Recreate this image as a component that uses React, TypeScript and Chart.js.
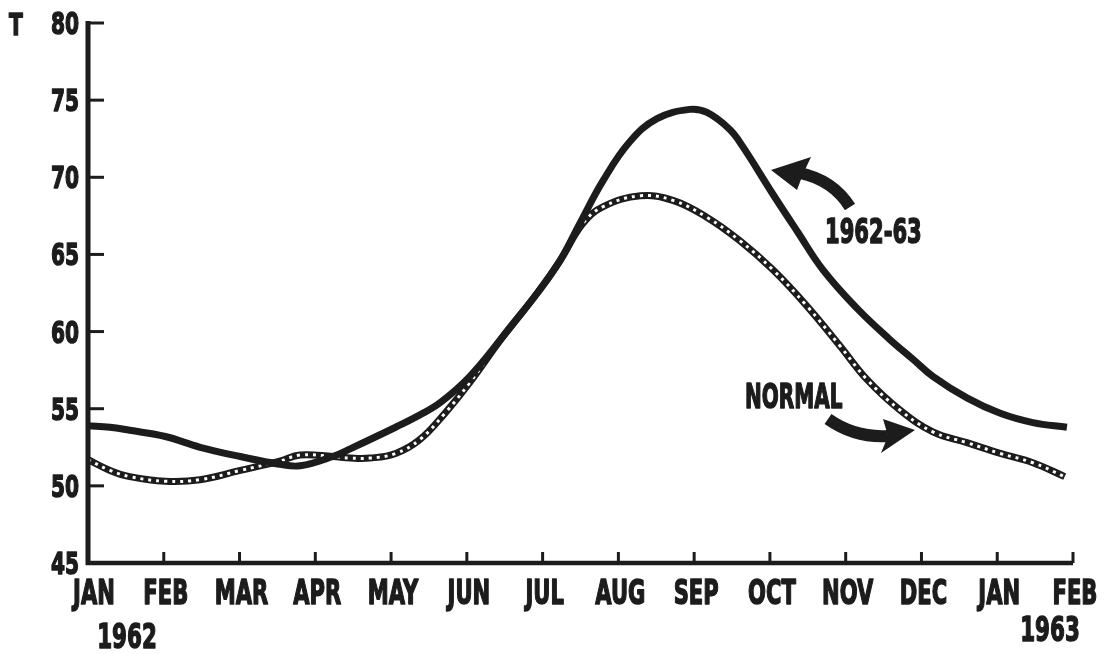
import React, { useEffect, useRef } from "react";
import { Chart, registerables } from "chart.js";

Chart.register(...registerables);

const MONTH_LABELS = ["JAN", "FEB", "MAR", "APR", "MAY", "JUN", "JUL", "AUG", "SEP", "OCT", "NOV", "DEC", "JAN", "FEB"];
const Y_TICKS = [45, 50, 55, 60, 65, 70, 75, 80];

// 1962-63 series (x = month index from JAN 1962)
const SERIES_6263_X = [0, 0.29, 0.55, 1.02, 1.48, 2.01, 2.53, 2.8, 3.23, 3.46, 4.06, 4.38, 4.65, 5.04, 5.48, 5.93, 6.23, 6.49, 6.8, 7.15, 7.51, 7.94, 8.17, 8.47, 8.64, 9.04, 9.36, 9.7, 10.15, 10.58, 10.89, 11.15, 11.6, 12.04, 12.47, 12.92];
const SERIES_6263_Y = [53.9, 53.8, 53.6, 53.2, 52.5, 51.9, 51.4, 51.3, 51.9, 52.4, 53.8, 54.6, 55.4, 57.1, 59.7, 62.5, 64.6, 67.0, 69.8, 72.3, 73.8, 74.4, 74.2, 73.1, 72.0, 68.9, 66.5, 64.0, 61.5, 59.5, 58.2, 57.1, 55.7, 54.7, 54.1, 53.8];

// Normal series
const NORMAL_X = [0, 0.29, 0.55, 1.02, 1.48, 2.01, 2.53, 2.8, 3.23, 3.46, 3.72, 4.06, 4.38, 4.71, 5.04, 5.48, 5.93, 6.23, 6.53, 6.8, 7.29, 7.72, 8.17, 8.6, 9.04, 9.48, 9.92, 10.28, 10.72, 11.15, 11.6, 12.04, 12.47, 12.89];
const NORMAL_Y = [51.7, 51.0, 50.6, 50.3, 50.4, 51.0, 51.6, 52.0, 51.9, 51.8, 51.8, 52.1, 53.0, 54.7, 56.7, 59.7, 62.5, 64.6, 67.0, 68.1, 68.8, 68.5, 67.4, 65.9, 64.0, 61.7, 59.1, 56.9, 54.9, 53.5, 52.8, 52.1, 51.5, 50.6];

const INK = "#1c1c1c";
const FONT = "'DejaVu Sans', sans-serif";

const toPoints = (xs: number[], ys: number[]) => xs.map((x, i) => ({ x, y: ys[i] }));

function condensedText(ctx: any, text: string, x: number, y: number, align: "left" | "center" | "right", size: number, squeeze: number) {
  ctx.save();
  ctx.font = `bold ${size}px ${FONT}`;
  ctx.textBaseline = "alphabetic";
  ctx.textAlign = align;
  ctx.translate(x, y);
  ctx.scale(squeeze, 1);
  ctx.fillStyle = INK;
  ctx.strokeStyle = INK;
  ctx.lineWidth = 1.6;
  ctx.lineJoin = "round";
  ctx.fillText(text, 0, 0);
  ctx.strokeText(text, 0, 0);
  ctx.restore();
}

const decorPlugin = {
  id: "decor",
  afterDraw(chart: any) {
    const ctx = chart.ctx;
    const xs = chart.scales.x;
    const ys = chart.scales.y;
    const left = xs.getPixelForValue(0);
    const right = xs.getPixelForValue(13);
    const top = ys.getPixelForValue(80);
    const bottom = ys.getPixelForValue(45);
    ctx.save();
    ctx.strokeStyle = INK;
    ctx.fillStyle = INK;
    ctx.lineCap = "butt";
    // axes
    ctx.lineWidth = 5;
    ctx.beginPath();
    ctx.moveTo(left, top - 2);
    ctx.lineTo(left, bottom + 2);
    ctx.stroke();
    ctx.lineWidth = 4.5;
    ctx.beginPath();
    ctx.moveTo(left - 2, bottom);
    ctx.lineTo(right, bottom);
    ctx.stroke();
    // y ticks (inside)
    ctx.lineWidth = 3;
    Y_TICKS.forEach((v) => {
      if (v === 45) return;
      const y = ys.getPixelForValue(v);
      ctx.beginPath();
      ctx.moveTo(left, y);
      ctx.lineTo(left + 16, y);
      ctx.stroke();
    });
    // x ticks (inside)
    for (let i = 1; i < MONTH_LABELS.length; i++) {
      const x = xs.getPixelForValue(i);
      ctx.beginPath();
      ctx.moveTo(x, bottom);
      ctx.lineTo(x, bottom - 11);
      ctx.stroke();
    }
    ctx.restore();
    // tick labels
    Y_TICKS.forEach((v) => {
      const y = ys.getPixelForValue(v);
      condensedText(ctx, String(v), left - 9, y + 11, "right", 31, 0.65);
    });
    MONTH_LABELS.forEach((m, i) => {
      const x = xs.getPixelForValue(i);
      condensedText(ctx, m, i === 0 ? x + 6 : x + 2, bottom + 41, "center", 34, 0.62);
    });
    // texts
    condensedText(ctx, "T", 9, 35, "left", 31, 0.65);
    condensedText(ctx, "1962", 127, 648, "center", 34, 0.63);
    condensedText(ctx, "1963", 1050, 641, "center", 34, 0.63);
    condensedText(ctx, "1962-63", 825, 243, "left", 34, 0.62);
    condensedText(ctx, "NORMAL", 745, 408, "left", 34, 0.59);

    ctx.save();
    ctx.strokeStyle = INK;
    ctx.fillStyle = INK;
    // arrow for 1962-63
    ctx.lineWidth = 12;
    ctx.beginPath();
    ctx.moveTo(850, 207);
    ctx.quadraticCurveTo(833, 180, 800, 173);
    ctx.stroke();
    ctx.beginPath();
    ctx.moveTo(771, 170);
    ctx.lineTo(811, 157);
    ctx.lineTo(803, 174);
    ctx.lineTo(797, 190);
    ctx.closePath();
    ctx.fill();

    // arrow for NORMAL
    ctx.lineWidth = 12;
    ctx.beginPath();
    ctx.moveTo(828, 419);
    ctx.quadraticCurveTo(855, 438, 888, 436);
    ctx.stroke();
    ctx.beginPath();
    ctx.moveTo(915, 430);
    ctx.lineTo(883, 419);
    ctx.lineTo(888, 436);
    ctx.lineTo(881, 453);
    ctx.closePath();
    ctx.fill();
    ctx.restore();
  },
};

export default function App() {
  const canvasRef = useRef<HTMLCanvasElement | null>(null);

  useEffect(() => {
    if (!canvasRef.current) return;
    const chart = new Chart(canvasRef.current, {
      type: "line",
      data: {
        datasets: [
          {
            label: "1962-63",
            data: toPoints(SERIES_6263_X, SERIES_6263_Y),
            borderColor: INK,
            borderWidth: 7,
            pointRadius: 0,
            tension: 0.4,
            order: 1,
          },
          {
            label: "NORMAL dots",
            data: toPoints(NORMAL_X, NORMAL_Y),
            borderColor: "#ffffff",
            borderWidth: 3,
            borderDash: [3, 5],
            pointRadius: 0,
            tension: 0.4,
            order: 2,
          },
          {
            label: "NORMAL",
            data: toPoints(NORMAL_X, NORMAL_Y),
            borderColor: INK,
            borderWidth: 7,
            pointRadius: 0,
            tension: 0.4,
            order: 3,
          },
        ],
      },
      options: {
        animation: false,
        responsive: true,
        maintainAspectRatio: false,
        layout: { padding: { left: 0, right: 33, top: 23, bottom: 0 } },
        plugins: { legend: { display: false }, tooltip: { enabled: false } },
        scales: {
          x: {
            type: "linear",
            min: 0,
            max: 13,
            grid: { display: false, drawTicks: false },
            border: { display: false },
            afterBuildTicks: (scale: any) => {
              scale.ticks = MONTH_LABELS.map((_, i) => ({ value: i }));
            },
            afterFit: (scale: any) => {
              scale.height = 91;
            },
            ticks: { display: false },
          },
          y: {
            type: "linear",
            min: 45,
            max: 80,
            grid: { display: false, drawTicks: false },
            border: { display: false },
            afterBuildTicks: (scale: any) => {
              scale.ticks = Y_TICKS.map((v) => ({ value: v }));
            },
            afterFit: (scale: any) => {
              scale.width = 88;
            },
            ticks: { display: false },
          },
        },
      },
      plugins: [decorPlugin],
    });
    return () => chart.destroy();
  }, []);

  return (
    <div style={{ position: "fixed", left: 0, top: 0, width: 1106, height: 654, background: "#ffffff" }}>
      <canvas ref={canvasRef} />
    </div>
  );
}
